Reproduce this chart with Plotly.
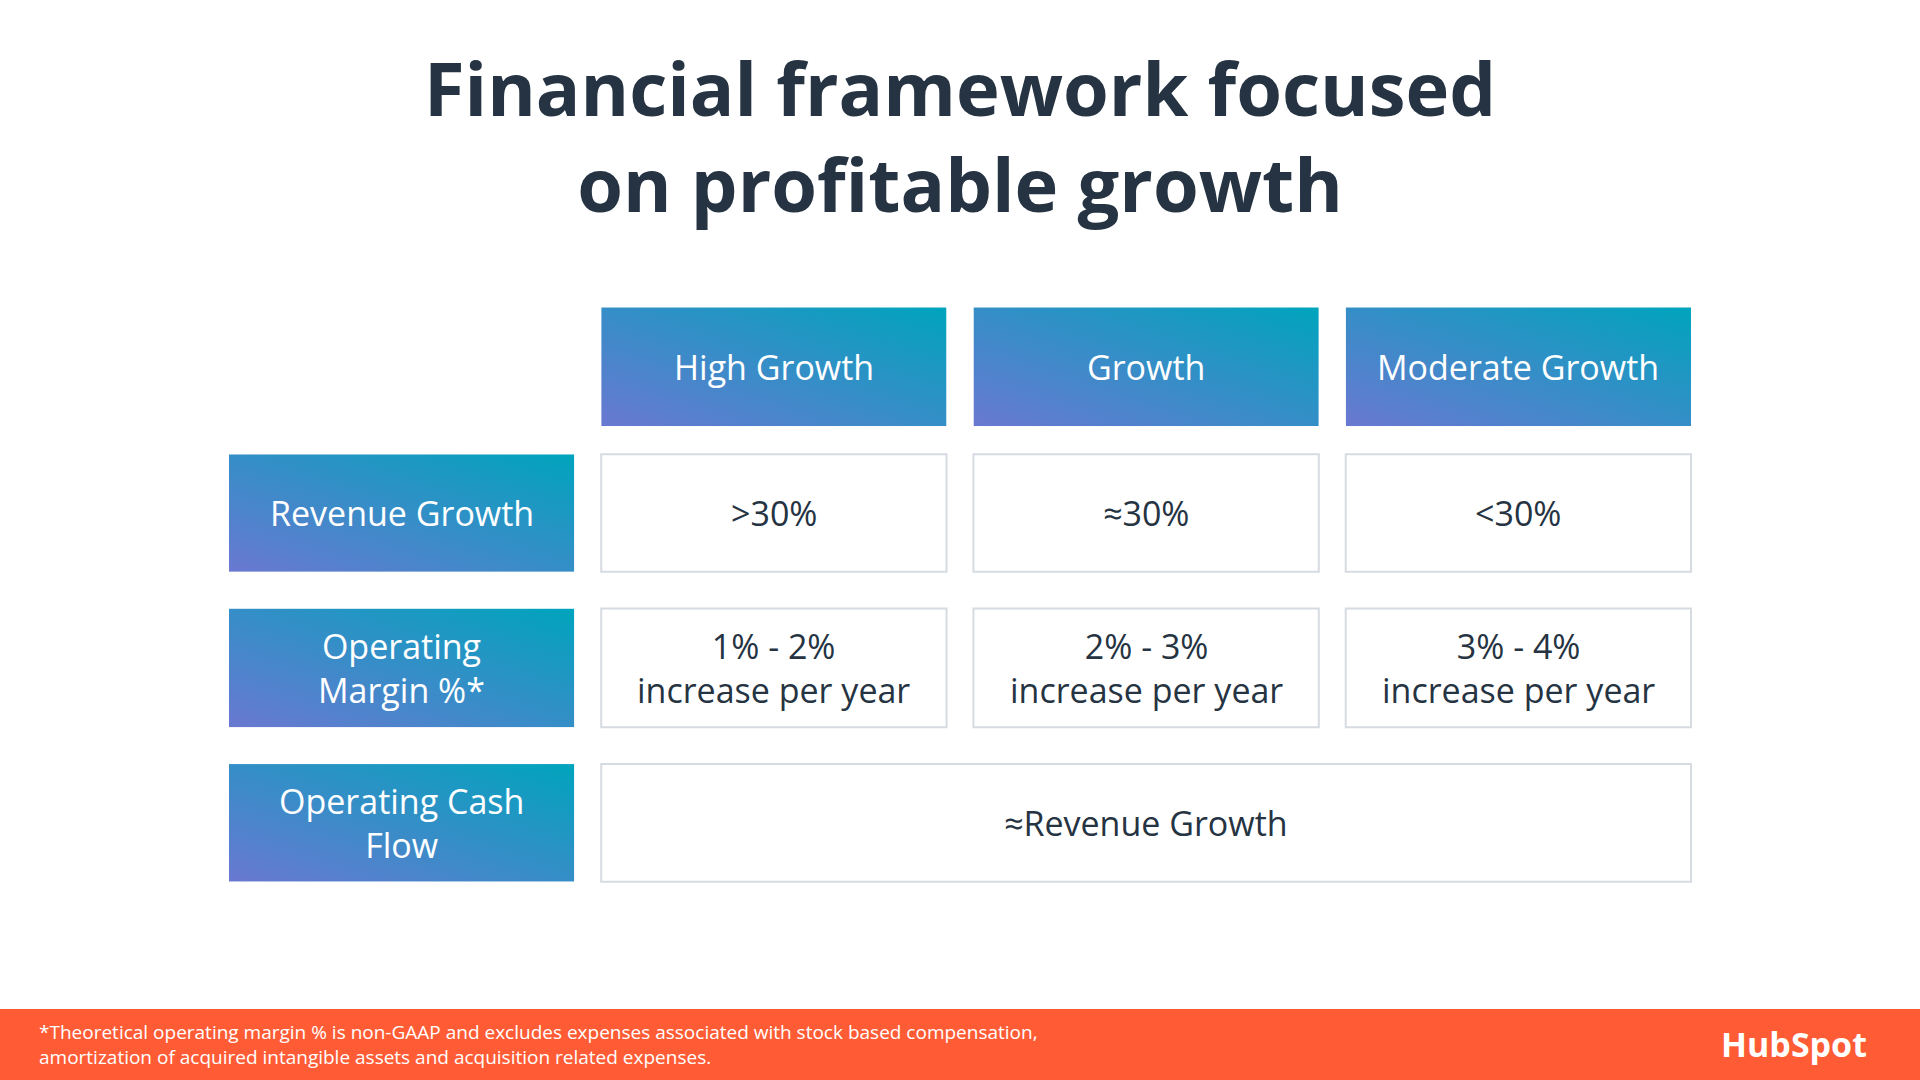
import base64
import plotly.graph_objects as go

title_lines = ["Financial framework focused", "on profitable growth"]
columns = ["High Growth", "Growth", "Moderate Growth"]
rows = ["Revenue Growth", "Operating<br>Margin %*", "Operating Cash<br>Flow"]
revenue_growth = [">30%", "≈30%", "<30%"]
operating_margin = ["1% - 2%<br>increase per year", "2% - 3%<br>increase per year",
                    "3% - 4%<br>increase per year"]
cash_flow = "≈Revenue Growth"
footnote = ("*Theoretical operating margin % is non-GAAP and excludes expenses associated with stock based compensation,<br>"
            "amortization of acquired intangible assets and acquisition related expenses.")

W, H = 1920, 1080
S = W / 1568.0
NAVY = "#253342"
FONT = "Open Sans"

svg = ('<svg xmlns="http://www.w3.org/2000/svg" width="300" height="100" preserveAspectRatio="none">'
       '<defs><linearGradient id="g" x1="0" y1="1" x2="1" y2="0">'
       '<stop offset="0" stop-color="#6a78d1"/><stop offset="1" stop-color="#00a4bd"/>'
       '</linearGradient></defs><rect width="300" height="100" fill="url(#g)"/></svg>')
grad = "data:image/svg+xml;base64," + base64.b64encode(svg.encode()).decode()

fig = go.Figure()
shapes, annos, images = [], [], []


def grad_cell(x0, y0, x1, y1, text):
    images.append(dict(source=grad, xref="x", yref="y", x=x0 * S, y=y0 * S,
                       sizex=(x1 - x0) * S, sizey=(y1 - y0) * S, sizing="stretch",
                       xanchor="left", yanchor="top", layer="below"))
    annos.append(dict(x=(x0 + x1) / 2 * S, y=(y0 + y1) / 2 * S, text=text, showarrow=False,
                      font=dict(family=FONT, size=34, color="white")))


def white_cell(x0, y0, x1, y1, text):
    shapes.append(dict(type="rect", x0=x0 * S, y0=y0 * S, x1=x1 * S, y1=y1 * S,
                       line=dict(color="#d6dbe1", width=2), fillcolor="white"))
    annos.append(dict(x=(x0 + x1) / 2 * S, y=(y0 + y1) / 2 * S, text=text, showarrow=False,
                      font=dict(family=FONT, size=34, color=NAVY)))


col_x = [(491, 773), (795, 1077), (1099, 1381)]
row_y = [(371, 467), (497, 594), (624, 720)]

for (x0, x1), c in zip(col_x, columns):
    grad_cell(x0, 251, x1, 348, c)
for (y0, y1), r in zip(row_y, rows):
    grad_cell(187, y0, 469, y1, r)
for (x0, x1), v in zip(col_x, revenue_growth):
    white_cell(x0, row_y[0][0], x1, row_y[0][1], v)
for (x0, x1), v in zip(col_x, operating_margin):
    white_cell(x0, row_y[1][0], x1, row_y[1][1], v)
white_cell(491, row_y[2][0], 1381, row_y[2][1], cash_flow)

annos.append(dict(x=784 * S, y=111 * S, text="<b>" + "<br>".join(title_lines) + "</b>",
                  showarrow=False, font=dict(family=FONT, size=74, color=NAVY)))

shapes.append(dict(type="rect", x0=0, x1=W, y0=824 * S, y1=H, fillcolor="#ff5c35", line_width=0))
annos.append(dict(x=30 * S, y=853 * S, text=footnote, showarrow=False, xanchor="left", align="left",
                  font=dict(family=FONT, size=19, color="white")))
annos.append(dict(x=1526 * S, y=853 * S, text="<b>HubSpot</b>", showarrow=False, xanchor="right",
                  font=dict(family=FONT, size=34, color="white")))

fig.add_trace(go.Scatter(x=[0, W], y=[0, H], mode="markers", marker=dict(opacity=0),
                         hoverinfo="skip", showlegend=False))
fig.update_layout(width=W, height=H, margin=dict(l=0, r=0, t=0, b=0),
                  plot_bgcolor="white", paper_bgcolor="white",
                  xaxis=dict(range=[0, W], visible=False, fixedrange=True),
                  yaxis=dict(range=[H, 0], visible=False, fixedrange=True),
                  shapes=shapes, annotations=annos, images=images)
fig.write_html("out.html", config={"displayModeBar": False},
               post_script="document.body.style.margin='0';document.body.style.overflow='hidden';")
